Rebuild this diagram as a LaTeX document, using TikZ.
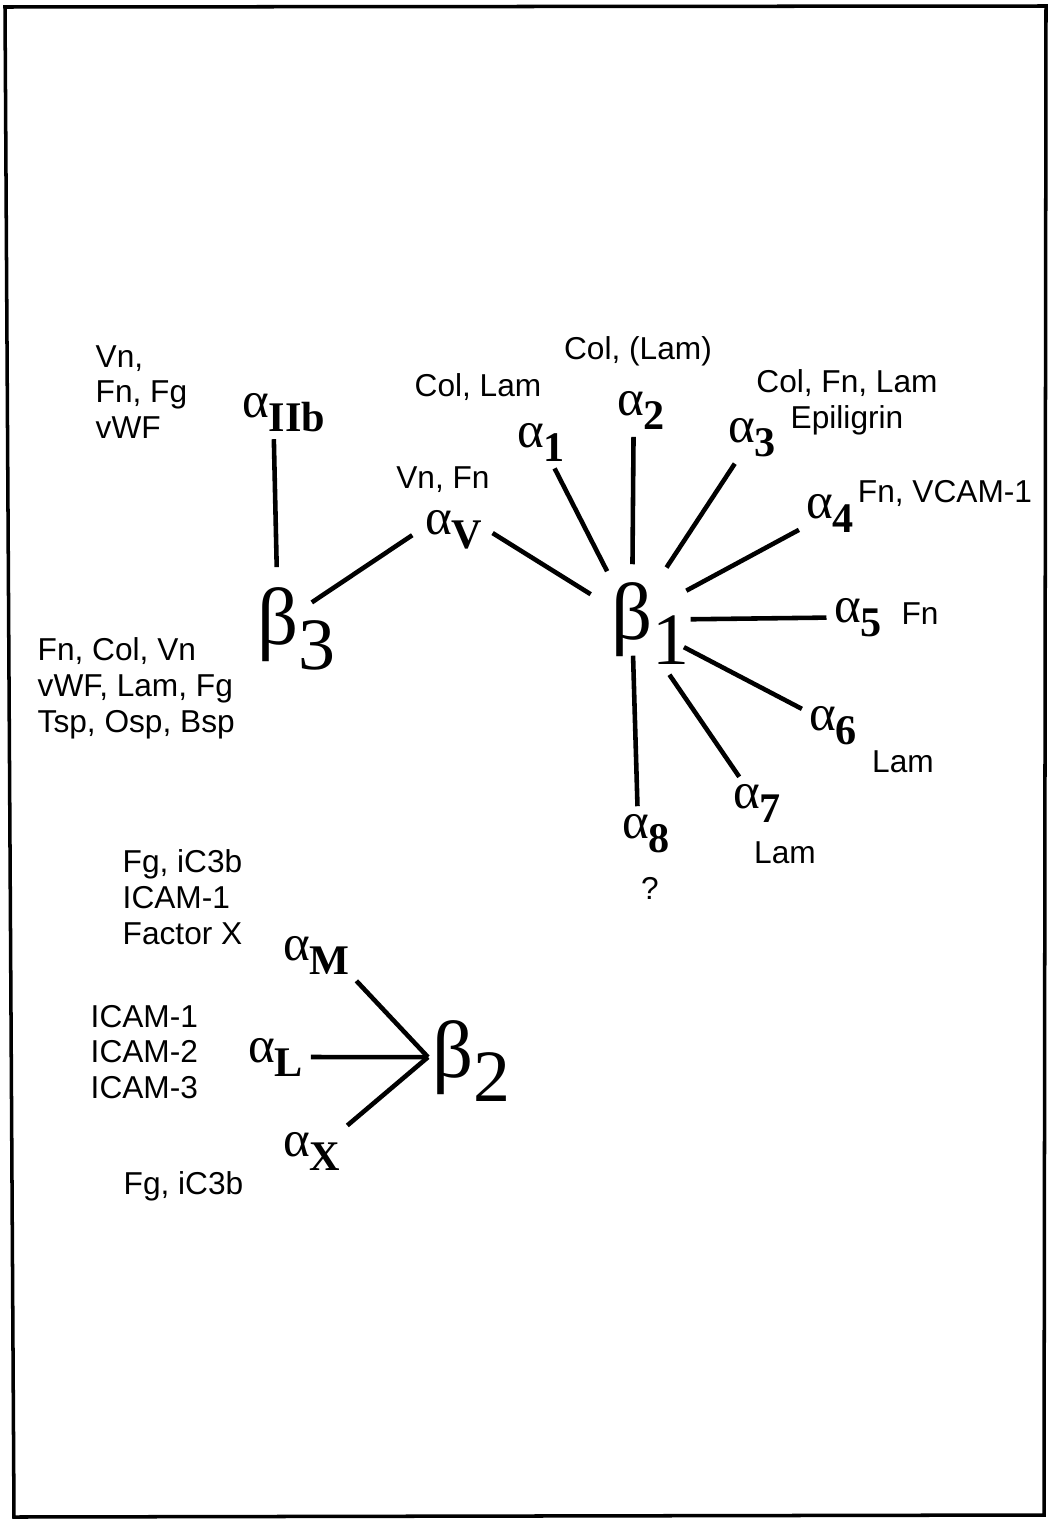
\documentclass[tikz,border=0pt]{standalone}
\usepackage{fontspec}
\setmainfont{Liberation Sans}
\newfontfamily\greekfont{Liberation Serif}
\usetikzlibrary{positioning}
\newcommand{\alf}[1]{{\greekfont\fontsize{14.5}{14.5}\selectfont α\raisebox{-4pt}{\fontsize{12}{12}\selectfont\bfseries #1}}}
\newcommand{\bet}[1]{{\greekfont\fontsize{23}{23}\selectfont β\rlap{\smash{\raisebox{-7pt}{\fontsize{21}{21}\selectfont #1}}}}}
\tikzset{
  alfa/.style={
    inner sep=1pt,
    anchor=base west
  },
  beta/.style={
    circle,
    inner sep=0pt,
    minimum size=0.96cm
  },
  ligand/.style={
    font=\fontsize{9}{10.2}\selectfont,
    inner sep=0pt,
    align=left
  },
  bond/.style={
    line width=1.3pt,
    shorten >=1pt
  }
}
\begin{document}
\begin{tikzpicture}[x=0.01cm,y=-0.01cm]
\useasboundingbox (0,0) rectangle (1054,1521);
\draw[line width=1pt] (5,7) -- (1046,6) -- (1044,1515) -- (14,1517) -- cycle;
% beta subunits
\node[beta] (b1) at (632,620) {\bet{1}};
\node[beta] (b3) at (278,625) {\bet{3}};
\node[inner sep=1pt,anchor=base west] (b2) at (428,1077) {\bet{2}};
% alpha subunits
\node[alfa] (aIIb) at (238,417) {\alf{IIb}};
\node[alfa] (aV) at (421,534) {\alf{V}};
\node[alfa] (a1) at (513,447) {\alf{1}};
\node[alfa] (a2) at (613,415) {\alf{2}};
\node[alfa] (a3) at (724,442) {\alf{3}};
\node[alfa] (a4) at (802,518) {\alf{4}};
\node[alfa] (a5) at (830,622) {\alf{5}};
\node[alfa] (a6) at (805,730) {\alf{6}};
\node[alfa] (a7) at (729,808) {\alf{7}};
\node[alfa] (a8) at (618,838) {\alf{8}};
\node[alfa] (aM) at (279,960) {\alf{M}};
\node[alfa] (aL) at (244,1062) {\alf{L}};
\node[alfa] (aX) at (279,1156) {\alf{X}};
% ligands
\node[ligand,anchor=west] (lIIb) at (95,392) {Vn,\\Fn, Fg\\vWF};
\node[ligand,anchor=west] (lb3) at (37,688) {Fn, Col, Vn\\vWF, Lam, Fg\\Tsp, Osp, Bsp};
\node[ligand] (lV) at (443,480) {Vn, Fn};
\node[ligand] (l1) at (478,387) {Col, Lam};
\node[ligand] (l2) at (638,351) {Col, (Lam)};
\node[ligand,align=center] (l3) at (847,402) {Col, Fn, Lam\\Epiligrin};
\node[ligand] (l4) at (945,493) {Fn, VCAM-1};
\node[ligand] (l5) at (920,614) {Fn};
\node[ligand] (l6) at (903,762) {Lam};
\node[ligand] (l7) at (785,853) {Lam};
\node[ligand] (l8) at (650,888) {?};
\node[ligand,anchor=west] (lM) at (122,897) {Fg, iC3b\\ICAM-1\\Factor X};
\node[ligand,anchor=west] (lL) at (90,1052) {ICAM-1\\ICAM-2\\ICAM-3};
\node[ligand,anchor=west] (lX) at (123,1186) {Fg, iC3b};
% bonds
\path[bond]
  (b3) edge[shorten <=2.6pt] (aIIb.-113)
       edge[shorten <=-2.3pt,shorten >=3pt] (aV.west)
  (b1) edge[shorten >=2pt] (aV.east)
       edge[shorten <=1.7pt] (a1)
       edge[shorten <=2pt] (a2.-108)
       edge[shorten <=4pt] (a3)
       edge[shorten <=3.7pt] (a4)
       edge[shorten <=2.8pt] (a5)
       edge[shorten <=2.8pt] (a6)
       edge[shorten <=5pt] (a7)
       edge[shorten <=-3.7pt] (a8.110)
  (b2.west) edge (aM.south east)
            edge (aL.east)
            edge (aX.north east);
\end{tikzpicture}
\end{document}
